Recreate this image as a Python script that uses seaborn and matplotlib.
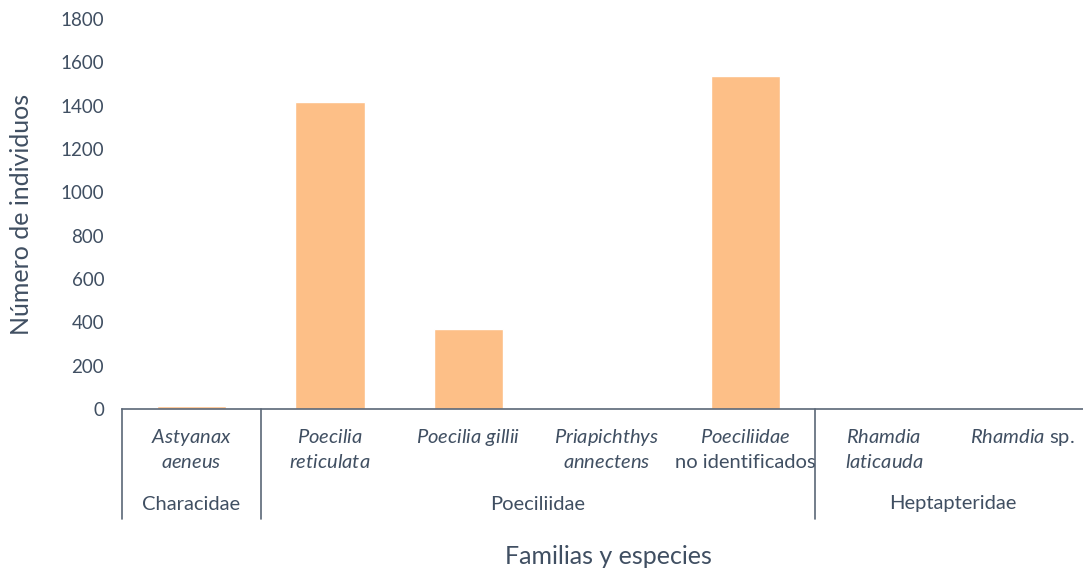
import matplotlib
matplotlib.use("Agg")
import matplotlib.pyplot as plt
import matplotlib.transforms as mtransforms
import seaborn as sns
import pandas as pd

# ---- data ----
especies = ["Astyanax aeneus", "Poecilia reticulata", "Poecilia gillii",
            "Priapichthys annectens", "Poeciliidae no identificados",
            "Rhamdia laticauda", "Rhamdia sp."]
linea1 = [r"$\mathit{Astyanax}$", r"$\mathit{Poecilia}$", r"$\mathit{Poecilia\ gillii}$",
          r"$\mathit{Priapichthys}$", r"$\mathit{Poeciliidae}$",
          r"$\mathit{Rhamdia}$", r"$\mathit{Rhamdia}$ sp."]
linea2 = [r"$\mathit{aeneus}$", r"$\mathit{reticulata}$", "",
          r"$\mathit{annectens}$", "no identificados",
          r"$\mathit{laticauda}$", ""]
valores = [14, 1417, 370, 5, 1535, 6, 5]
familias = ["Characidae", "Poeciliidae", "Heptapteridae"]
familia_inicio = [0, 1, 5]
familia_fin = [0, 4, 6]
yticks = [0, 200, 400, 600, 800, 1000, 1200, 1400, 1600, 1800]

TXT = "#404f62"
BAR = "#fdbf87"
AX = "#5b6777"
FONT = "Lato"
FS = 14.5

sns.set_theme(style="white")
plt.rcParams["font.family"] = [FONT, "DejaVu Sans"]
plt.rcParams["mathtext.fontset"] = "custom"
plt.rcParams["mathtext.rm"] = FONT
plt.rcParams["mathtext.it"] = FONT + ":italic"

df = pd.DataFrame({"especie": especies, "n": valores})

fig = plt.figure(figsize=(10.83, 5.71), dpi=100)
x0, x1 = 122.25, 1091.75
ax = fig.add_axes([x0 / 1083, 1 - 409 / 571, (x1 - x0) / 1083, (409 - 19) / 571])
sns.barplot(data=df, x="especie", y="n", color=BAR, saturation=1, width=0.5, ax=ax)

ax.set_xlim(-0.5, len(especies) - 0.5)
ax.set_ylim(0, 1800)
ax.set_yticks(yticks)
ax.set_yticklabels([str(v) for v in yticks], fontsize=13.5, color=TXT)
ax.tick_params(axis="y", length=0, pad=13)
ax.set_xticks([])
ax.set_xlabel("")
ax.set_ylabel("Número de individuos", fontsize=18, color=TXT, labelpad=20)

for s in ["left", "right", "top"]:
    ax.spines[s].set_visible(False)
ax.spines["bottom"].set_color(AX)
ax.spines["bottom"].set_linewidth(1.2)

trans = mtransforms.blended_transform_factory(ax.transData, ax.transAxes)
h = 390.0
for i in range(len(especies)):
    ax.text(i, -(437 - 409) / h, linea1[i], transform=trans, ha="center", va="center",
            fontsize=FS, color=TXT)
    if linea2[i]:
        ax.text(i, -(462 - 409) / h, linea2[i], transform=trans, ha="center", va="center",
                fontsize=FS, color=TXT)

for fam, a, b in zip(familias, familia_inicio, familia_fin):
    ax.text((a + b) / 2, -(504 - 409) / h, fam, transform=trans, ha="center", va="center",
            fontsize=FS, color=TXT)

for xb in [-0.5, 0.5, 4.5]:
    ax.plot([xb, xb], [0, -(519 - 409) / h], transform=trans, color=AX, lw=1.2,
            clip_on=False)

fig.text(608 / 1083, 1 - 556 / 571, "Familias y especies", ha="center", va="center",
         fontsize=18, color=TXT)

fig.savefig("out.png", dpi=100)
